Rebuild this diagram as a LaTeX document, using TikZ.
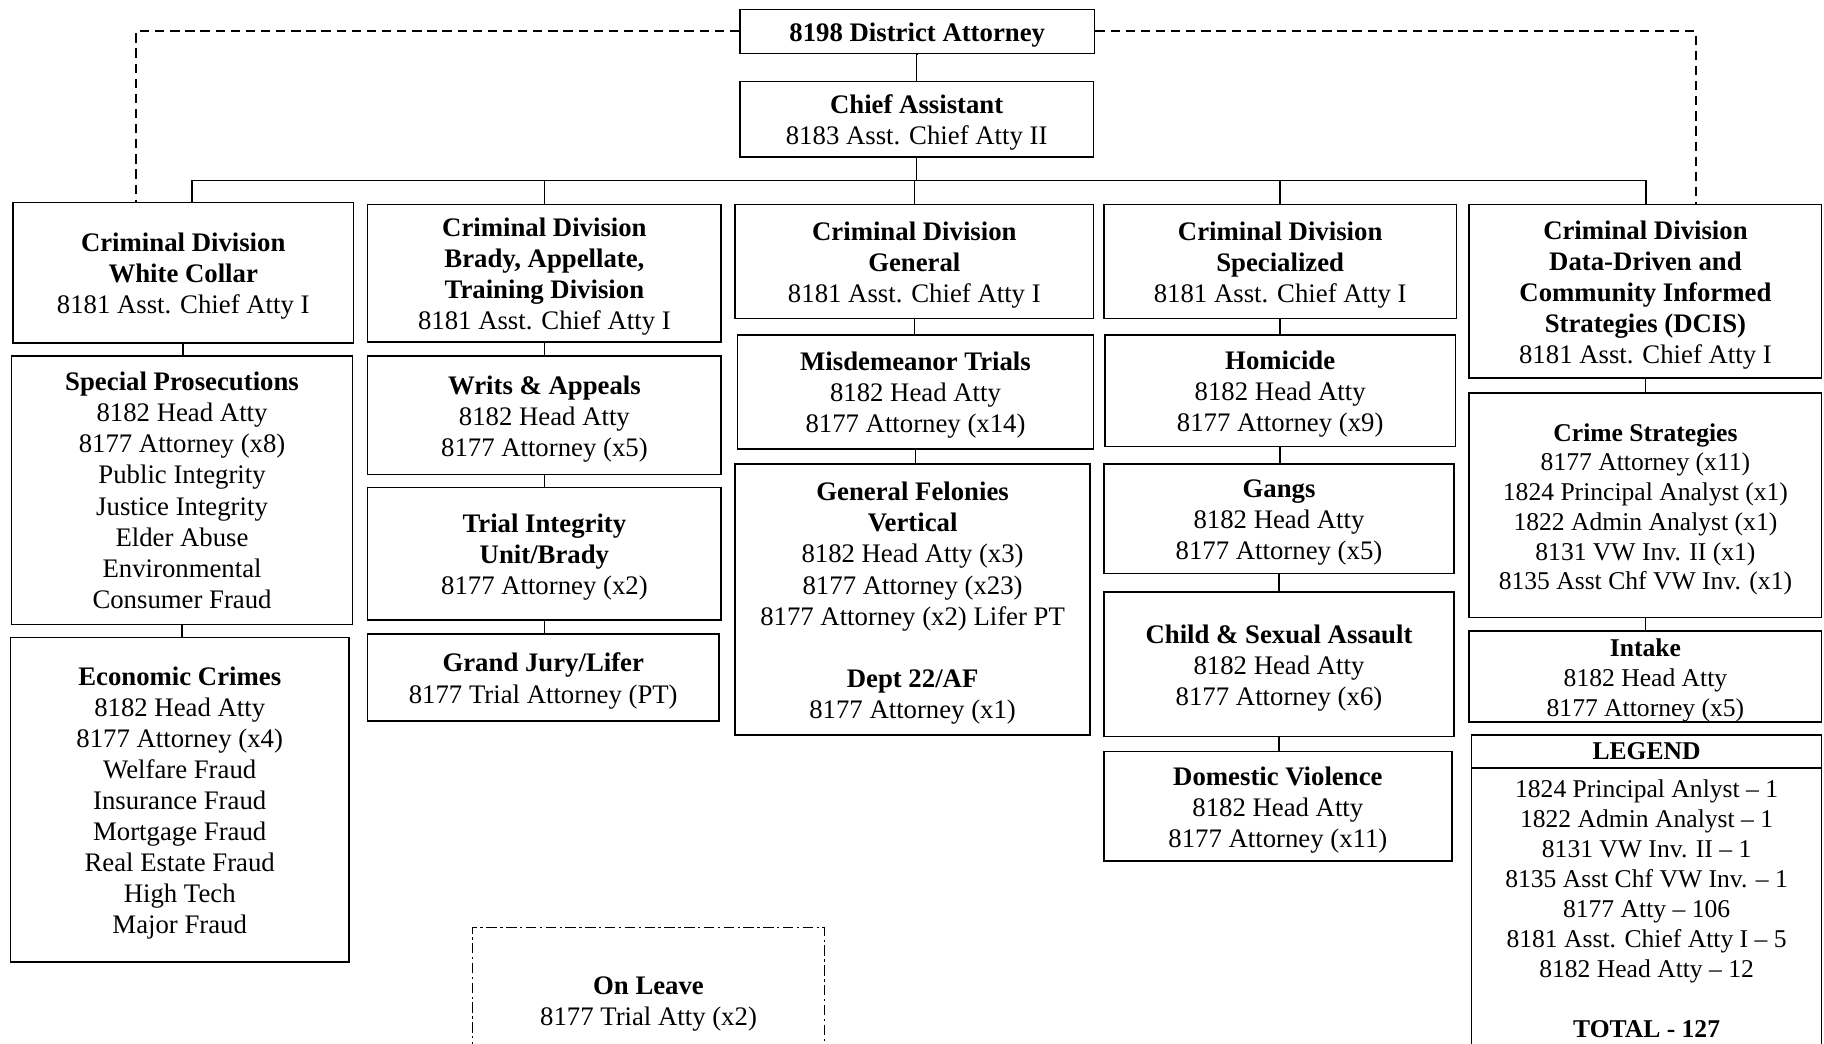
\documentclass[tikz,border=0pt]{standalone}
\usepackage{fontspec}
\setmainfont{Liberation Serif}
\newcommand{\fl}{\rule{0pt}{22pt}}
\begin{document}
\begin{tikzpicture}[x=1pt,y=-1pt,
  box/.style={draw=black, line width=1.3pt, rectangle, inner sep=0pt, align=center,
    font=\fontsize{23}{26.7}\selectfont},
  rbox/.style={box, font=\fontsize{22}{25.6}\selectfont},
  plainbox/.style={draw=black, line width=1.3pt, rectangle, inner sep=0pt, align=center,
    font=\fontsize{22}{25.8}\selectfont},
  conn/.style={draw=black, line width=1.3pt},
  dashline/.style={draw=black, line width=1.8pt, dash pattern=on 8pt off 5pt},
  dashdot/.style={draw=black, line width=1.1pt, dash pattern=on 9pt off 3pt on 2pt off 3pt}]
\useasboundingbox (0,0) rectangle (1568,897);
\fill[white] (0,0) rectangle (1568,897);

% top
\node[box, minimum width=305, minimum height=38] (da) at (788.5,27) {\fl\textbf{8198 District Attorney}};
\node[box, minimum width=304, minimum height=65] (chief) at (788,102.5) {\fl\textbf{Chief Assistant}\\8183 Asst. Chief Atty II};

% column 1
\node[box, minimum width=293, minimum height=121] (wc) at (157.5,234.5) {\fl\textbf{Criminal Division}\\\textbf{White Collar}\\8181 Asst. Chief Atty I};
\node[box, minimum width=293, minimum height=231] (sp) at (156.5,421.5) {\textbf{Special Prosecutions}\\8182 Head Atty\\8177 Attorney (x8)\\Public Integrity\\Justice Integrity\\Elder Abuse\\Environmental\\Consumer Fraud};
\node[box, minimum width=291, minimum height=279] (ec) at (154.5,687.5) {\fl\textbf{Economic Crimes}\\8182 Head Atty\\8177 Attorney (x4)\\Welfare Fraud\\Insurance Fraud\\Mortgage Fraud\\Real Estate Fraud\\High Tech\\Major Fraud};

% column 2
\node[box, minimum width=304, minimum height=118] (brady) at (468,235) {\fl\textbf{Criminal Division}\\\textbf{Brady, Appellate,}\\\textbf{Training Division}\\8181 Asst. Chief Atty I};
\node[box, minimum width=304, minimum height=102] (writs) at (468,357) {\fl\textbf{Writs \& Appeals}\\8182 Head Atty\\8177 Attorney (x5)};
\node[box, minimum width=304, minimum height=114] (trial) at (468,476) {\fl\textbf{Trial Integrity}\\\textbf{Unit/Brady}\\8177 Attorney (x2)};
\node[box, minimum width=302, minimum height=75] (grand) at (467,582.5) {\fl\textbf{Grand Jury/Lifer}\\8177 Trial Attorney (PT)};

% column 3
\node[box, minimum width=308, minimum height=98] (gen) at (786,225) {\fl\textbf{Criminal Division}\\\textbf{General}\\8181 Asst. Chief Atty I};
\node[box, minimum width=306, minimum height=98] (misd) at (787,337) {\fl\textbf{Misdemeanor Trials}\\8182 Head Atty\\8177 Attorney (x14)};
\node[box, minimum width=305, minimum height=233] (felon) at (784.5,515.5) {\fl\textbf{General Felonies}\\\textbf{Vertical}\\8182 Head Atty (x3)\\8177 Attorney (x23)\\8177 Attorney (x2) Lifer PT\\[26.7pt]\textbf{Dept 22/AF}\\8177 Attorney (x1)};

% column 4
\node[box, minimum width=303, minimum height=98] (spec) at (1100.5,225) {\fl\textbf{Criminal Division}\\\textbf{Specialized}\\8181 Asst. Chief Atty I};
\node[box, minimum width=301, minimum height=96] (homi) at (1100.5,336) {\fl\textbf{Homicide}\\8182 Head Atty\\8177 Attorney (x9)};
\node[box, minimum width=301, minimum height=94] (gangs) at (1099.5,446) {\fl\textbf{Gangs}\\8182 Head Atty\\8177 Attorney (x5)};
\node[box, minimum width=301, minimum height=124] (child) at (1099.5,571) {\fl\textbf{Child \& Sexual Assault}\\8182 Head Atty\\8177 Attorney (x6)};
\node[box, minimum width=299, minimum height=94] (dv) at (1098.5,693) {\fl\textbf{Domestic Violence}\\8182 Head Atty\\8177 Attorney (x11)};

% column 5
\node[box, minimum width=303, minimum height=149] (dcis) at (1414.5,250.5) {\fl\textbf{Criminal Division}\\\textbf{Data-Driven and}\\\textbf{Community Informed}\\\textbf{Strategies (DCIS)}\\8181 Asst. Chief Atty I};
\node[rbox, minimum width=303, minimum height=193] (cs) at (1414.5,434.5) {\fl\textbf{Crime Strategies}\\8177 Attorney (x11)\\1824 Principal Analyst (x1)\\1822 Admin Analyst (x1)\\8131 VW Inv. II (x1)\\8135 Asst Chf VW Inv. (x1)};
\node[rbox, minimum width=303, minimum height=77] (intake) at (1414.5,581.5) {\fl\textbf{Intake}\\8182 Head Atty\\8177 Attorney (x5)};
\node[plainbox, minimum width=301, minimum height=28] (leghead) at (1415.5,646) {\textbf{LEGEND}};
\node[plainbox, minimum width=301, minimum height=243] (legbody) at (1415.5,781.5) {1824 Principal Anlyst -- 1\\1822 Admin Analyst -- 1\\8131 VW Inv. II -- 1\\8135 Asst Chf VW Inv. -- 1\\8177 Atty -- 106\\8181 Asst. Chief Atty I -- 5\\8182 Head Atty -- 12\\[25.8pt]\textbf{TOTAL - 127}};

% on leave
\node[box, draw=none, minimum width=301, minimum height=123] (leave) at (557.5,859.5) {\fl\textbf{On Leave}\\8177 Trial Atty (x2)};
\draw[dashdot] (leave.south west) -- (leave.north west) -- (leave.north east) -- (leave.south east);

% connectors
\coordinate (bus) at (788,155);
\coordinate (busl) at (165,155);
\coordinate (busr) at (1415,155);
\draw[conn] (da.south) -- (chief.south |- da.south) -- (chief.north);
\draw[conn] (chief.south) -- (bus);
\draw[conn] (busl |- wc.north) -- (busl) -- (busr) -- (busr |- dcis.north);
\draw[conn] (brady.north) -- (brady.north |- bus);
\draw[conn] (gen.north) -- (gen.north |- bus);
\draw[conn] (spec.north) -- (spec.north |- bus);

\draw[conn] (wc.south) -- (wc.south |- sp.north);
\draw[conn] (sp.south) -- (sp.south |- ec.north);
\draw[conn] (brady.south) -- (brady.south |- writs.north);
\draw[conn] (writs.south) -- (writs.south |- trial.north);
\draw[conn] (trial.south) -- (trial.south |- grand.north);
\draw[conn] (gen.south) -- (gen.south |- misd.north);
\draw[conn] (misd.south) -- (misd.south |- felon.north);
\draw[conn] (spec.south) -- (spec.south |- homi.north);
\draw[conn] (homi.south) -- (homi.south |- gangs.north);
\draw[conn] (gangs.south) -- (gangs.south |- child.north);
\draw[conn] (child.south) -- (child.south |- dv.north);
\draw[conn] (dcis.south) -- (dcis.south |- cs.north);
\draw[conn] (cs.south) -- (cs.south |- intake.north);

% dashed lines from DA
\coordinate (dl) at (117,174);
\coordinate (dr) at (1458,176);
\draw[dashline] (da.west) -| (dl);
\draw[dashline] (da.east) -| (dr);
\end{tikzpicture}
\end{document}
